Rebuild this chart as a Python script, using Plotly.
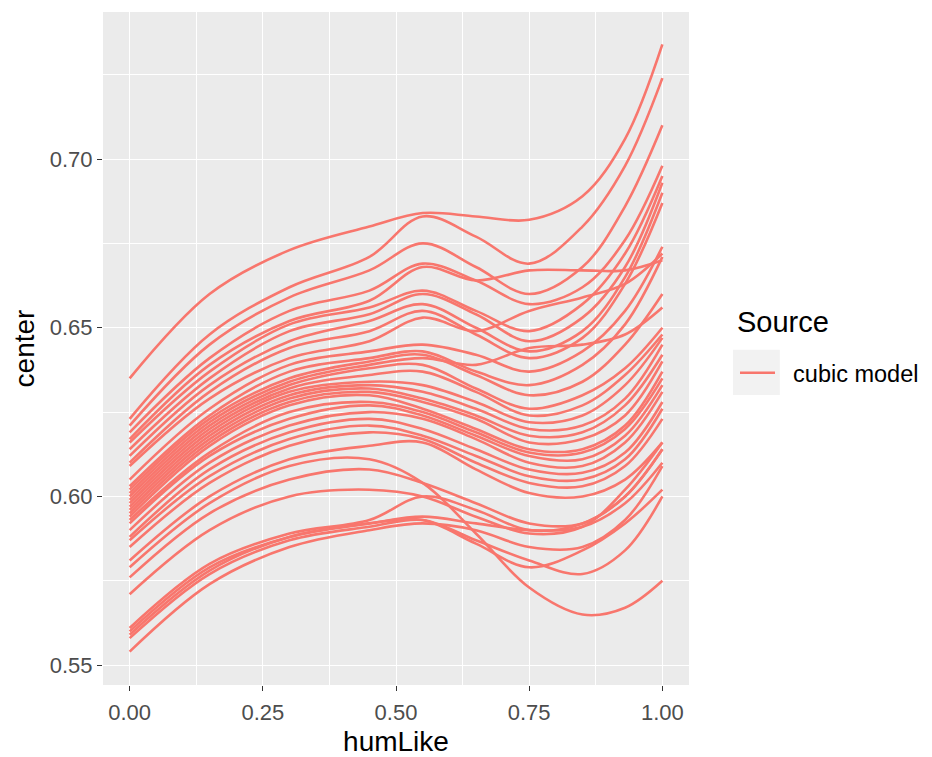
import plotly.graph_objects as go

hum_like = [0.0, 0.15, 0.30, 0.45, 0.55, 0.65, 0.75, 0.85, 0.93, 1.0]

# predicted "center" values of each cubic-model curve at the knots above
curve_01 = [0.635, 0.660, 0.673, 0.680, 0.684, 0.683, 0.682, 0.689, 0.706, 0.734]
curve_02 = [0.623, 0.648, 0.662, 0.671, 0.683, 0.677, 0.669, 0.680, 0.698, 0.724]
curve_03 = [0.621, 0.645, 0.659, 0.667, 0.675, 0.668, 0.660, 0.668, 0.686, 0.710]
curve_04 = [0.619, 0.641, 0.655, 0.661, 0.669, 0.664, 0.657, 0.662, 0.676, 0.698]
curve_05 = [0.617, 0.639, 0.652, 0.658, 0.668, 0.664, 0.667, 0.667, 0.667, 0.670]
curve_06 = [0.616, 0.637, 0.651, 0.656, 0.661, 0.655, 0.649, 0.657, 0.672, 0.695]
curve_07 = [0.614, 0.635, 0.649, 0.654, 0.660, 0.654, 0.646, 0.653, 0.668, 0.693]
curve_08 = [0.612, 0.633, 0.646, 0.652, 0.657, 0.650, 0.643, 0.649, 0.665, 0.690]
curve_09 = [0.610, 0.631, 0.644, 0.649, 0.655, 0.648, 0.641, 0.647, 0.663, 0.687]
curve_10 = [0.609, 0.629, 0.641, 0.646, 0.653, 0.649, 0.655, 0.659, 0.663, 0.672]
curve_11 = [0.605, 0.626, 0.639, 0.643, 0.645, 0.642, 0.637, 0.643, 0.655, 0.674]
curve_12 = [0.603, 0.624, 0.637, 0.641, 0.643, 0.637, 0.633, 0.639, 0.651, 0.671]
curve_13 = [0.602, 0.623, 0.635, 0.640, 0.642, 0.636, 0.630, 0.634, 0.645, 0.660]
curve_14 = [0.601, 0.622, 0.634, 0.639, 0.641, 0.639, 0.644, 0.645, 0.648, 0.656]
curve_15 = [0.600, 0.621, 0.633, 0.638, 0.639, 0.632, 0.626, 0.630, 0.638, 0.650]
curve_16 = [0.599, 0.620, 0.632, 0.636, 0.637, 0.631, 0.624, 0.627, 0.636, 0.648]
curve_17 = [0.598, 0.619, 0.631, 0.634, 0.633, 0.628, 0.622, 0.624, 0.633, 0.647]
curve_18 = [0.597, 0.618, 0.630, 0.633, 0.631, 0.626, 0.620, 0.621, 0.629, 0.645]
curve_19 = [0.596, 0.617, 0.629, 0.632, 0.629, 0.624, 0.618, 0.619, 0.627, 0.642]
curve_20 = [0.595, 0.616, 0.628, 0.631, 0.628, 0.623, 0.616, 0.617, 0.624, 0.640]
curve_21 = [0.594, 0.615, 0.627, 0.630, 0.626, 0.620, 0.614, 0.614, 0.621, 0.637]
curve_22 = [0.593, 0.613, 0.625, 0.628, 0.625, 0.619, 0.613, 0.613, 0.620, 0.635]
curve_23 = [0.592, 0.612, 0.623, 0.627, 0.624, 0.618, 0.612, 0.611, 0.618, 0.633]
curve_24 = [0.590, 0.610, 0.621, 0.625, 0.623, 0.617, 0.610, 0.609, 0.616, 0.631]
curve_25 = [0.588, 0.608, 0.619, 0.623, 0.620, 0.614, 0.608, 0.607, 0.613, 0.628]
curve_26 = [0.587, 0.606, 0.617, 0.621, 0.618, 0.612, 0.606, 0.605, 0.611, 0.626]
curve_27 = [0.585, 0.604, 0.615, 0.619, 0.617, 0.610, 0.604, 0.603, 0.609, 0.623]
curve_28 = [0.581, 0.600, 0.611, 0.615, 0.616, 0.608, 0.601, 0.600, 0.605, 0.616]
curve_29 = [0.579, 0.598, 0.609, 0.611, 0.604, 0.589, 0.573, 0.565, 0.567, 0.575]
curve_30 = [0.576, 0.595, 0.605, 0.608, 0.604, 0.598, 0.592, 0.592, 0.600, 0.614]
curve_31 = [0.571, 0.590, 0.600, 0.602, 0.600, 0.594, 0.589, 0.591, 0.602, 0.616]
curve_32 = [0.561, 0.580, 0.589, 0.593, 0.600, 0.596, 0.590, 0.592, 0.600, 0.614]
curve_33 = [0.560, 0.579, 0.588, 0.592, 0.594, 0.592, 0.590, 0.591, 0.598, 0.610]
curve_34 = [0.559, 0.578, 0.588, 0.592, 0.593, 0.586, 0.579, 0.584, 0.592, 0.602]
curve_35 = [0.558, 0.577, 0.587, 0.591, 0.593, 0.587, 0.581, 0.577, 0.584, 0.600]
curve_36 = [0.554, 0.574, 0.585, 0.590, 0.592, 0.590, 0.585, 0.585, 0.593, 0.609]

curves = [curve_01, curve_02, curve_03, curve_04, curve_05, curve_06, curve_07, curve_08,
          curve_09, curve_10, curve_11, curve_12, curve_13, curve_14, curve_15, curve_16,
          curve_17, curve_18, curve_19, curve_20, curve_21, curve_22, curve_23, curve_24,
          curve_25, curve_26, curve_27, curve_28, curve_29, curve_30, curve_31, curve_32,
          curve_33, curve_34, curve_35, curve_36]

x_ticks = [0.0, 0.25, 0.5, 0.75, 1.0]
x_tick_labels = ["0.00", "0.25", "0.50", "0.75", "1.00"]
y_ticks = [0.55, 0.60, 0.65, 0.70]
y_tick_labels = ["0.55", "0.60", "0.65", "0.70"]

LINE_COLOR = "#F8766D"
FONT = "Liberation Sans, Arial, sans-serif"

fig = go.Figure()
for i, c in enumerate(curves):
    fig.add_trace(go.Scatter(
        x=hum_like, y=c, mode="lines",
        line=dict(color=LINE_COLOR, width=2.6, shape="spline", smoothing=1.0),
        name="\u00a0\u00a0cubic model", legendgroup="cubic",
        showlegend=(i == 0), hoverinfo="skip",
    ))

# the page body adds an 8px offset, so the figure is 8px smaller than the window
fig.update_layout(
    width=924, height=749,
    margin=dict(l=95, r=243, t=4, b=72, autoexpand=False),
    paper_bgcolor="white", plot_bgcolor="#EBEBEB",
    font=dict(family=FONT, color="#4D4D4D", size=22),
    legend=dict(
        font=dict(size=23.5, color="black"),
        x=1.0785, xanchor="left", y=0.4636, yanchor="middle",
        bgcolor="rgba(0,0,0,0)", itemwidth=35,
    ),
    showlegend=True,
)
fig.update_xaxes(
    range=[-0.05, 1.05], tickvals=x_ticks, ticktext=x_tick_labels,
    showgrid=True, gridcolor="white", gridwidth=1.4, zeroline=False,
    ticks="outside", ticklen=5, tickcolor="#333333", tickwidth=1.2,
    tickfont=dict(size=22, color="#4D4D4D"), automargin=False,
    ticklabelstandoff=3,
    minor=dict(tickvals=[0.125, 0.375, 0.625, 0.875], showgrid=True,
               gridcolor="white", gridwidth=0.7, ticks=""),
    title=dict(text="humLike", font=dict(size=28, color="black"), standoff=9),
    showline=False,
)
fig.update_yaxes(
    range=[0.5441, 0.7436], tickvals=y_ticks, ticktext=y_tick_labels,
    showgrid=True, gridcolor="white", gridwidth=1.4, zeroline=False,
    ticks="outside", ticklen=5, tickcolor="#333333", tickwidth=1.2,
    tickfont=dict(size=22, color="#4D4D4D"), automargin=False,
    minor=dict(tickvals=[0.575, 0.625, 0.675, 0.725], showgrid=True,
               gridcolor="white", gridwidth=0.7, ticks=""),
    title=dict(text="center", font=dict(size=28, color="black"), standoff=6),
    showline=False,
)

# legend title and the light grey key background, as ggplot2 draws them
fig.add_annotation(text="Source", xref="paper", yref="paper",
                   x=1.0785, y=0.539, xanchor="left", yanchor="middle",
                   showarrow=False, font=dict(size=29, color="black"))
fig.add_shape(type="rect", xref="paper", yref="paper",
              x0=1.075, x1=1.155, y0=0.431, y1=0.498,
              fillcolor="#F2F2F2", line=dict(width=0), layer="above")

fig.write_html("out.html")
